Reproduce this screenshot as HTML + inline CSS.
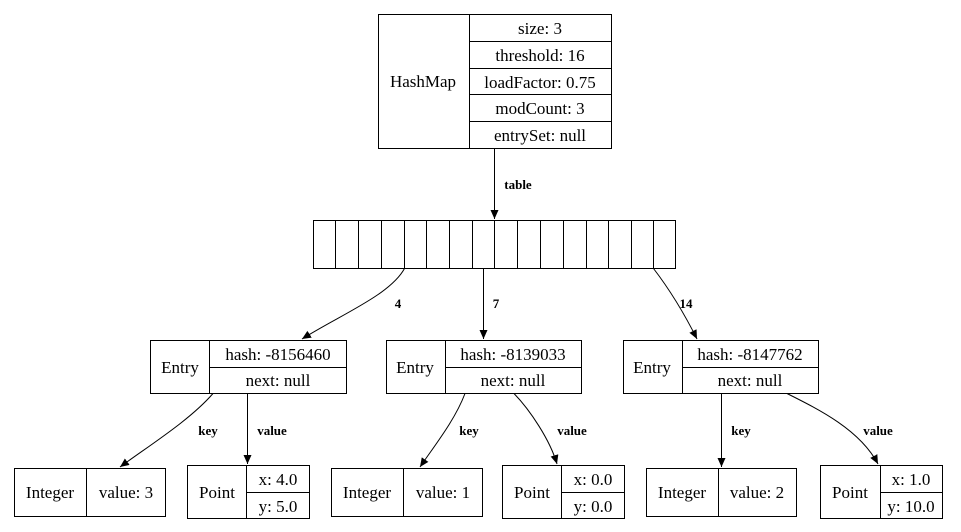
<!DOCTYPE html>
<html><head><meta charset="utf-8"><style>
html,body{margin:0;padding:0;background:#fff;}
svg{display:block;}
</style></head><body>
<svg width="961" height="532" viewBox="0 0 961 532" xmlns="http://www.w3.org/2000/svg" font-family="'Liberation Serif', 'Times New Roman', 'DejaVu Serif', serif">
<defs><marker id="a" markerWidth="10" markerHeight="10" refX="9" refY="5" orient="auto" markerUnits="userSpaceOnUse"><path d="M0,1 L9,5 L0,9 Z" fill="#000"/></marker></defs>
<g fill="none" stroke="#000" stroke-width="1">
<rect x="378.5" y="14.5" width="233" height="134"/>
<line x1="469.5" y1="14.5" x2="469.5" y2="148.5"/>
<line x1="469.5" y1="41.5" x2="611.5" y2="41.5"/>
<line x1="469.5" y1="68.5" x2="611.5" y2="68.5"/>
<line x1="469.5" y1="94.5" x2="611.5" y2="94.5"/>
<line x1="469.5" y1="121.5" x2="611.5" y2="121.5"/>
<rect x="313.5" y="220.5" width="362" height="48"/>
<path d="M335.5 220.5V268.5M358.5 220.5V268.5M381.5 220.5V268.5M404.5 220.5V268.5M426.5 220.5V268.5M449.5 220.5V268.5M472.5 220.5V268.5M494.5 220.5V268.5M517.5 220.5V268.5M540.5 220.5V268.5M563.5 220.5V268.5M586.5 220.5V268.5M608.5 220.5V268.5M631.5 220.5V268.5M653.5 220.5V268.5"/>
<rect x="150.5" y="340.5" width="196" height="53"/><line x1="209.5" y1="340.5" x2="209.5" y2="393.5"/><line x1="209.5" y1="367.5" x2="346.5" y2="367.5"/>
<rect x="386.5" y="340.5" width="195" height="53"/><line x1="445.5" y1="340.5" x2="445.5" y2="393.5"/><line x1="445.5" y1="367.5" x2="581.5" y2="367.5"/>
<rect x="623.5" y="340.5" width="195" height="53"/><line x1="682.5" y1="340.5" x2="682.5" y2="393.5"/><line x1="682.5" y1="367.5" x2="818.5" y2="367.5"/>
<rect x="14.5" y="468.5" width="151" height="48"/><line x1="86.5" y1="468.5" x2="86.5" y2="516.5"/>
<rect x="331.5" y="468.5" width="151" height="48"/><line x1="403.5" y1="468.5" x2="403.5" y2="516.5"/>
<rect x="646.5" y="468.5" width="150" height="48"/><line x1="718.5" y1="468.5" x2="718.5" y2="516.5"/>
<rect x="187.5" y="465.5" width="122" height="53"/><line x1="246.5" y1="465.5" x2="246.5" y2="518.5"/><line x1="246.5" y1="492.5" x2="309.5" y2="492.5"/>
<rect x="502.5" y="465.5" width="122" height="53"/><line x1="561.5" y1="465.5" x2="561.5" y2="518.5"/><line x1="561.5" y1="492.5" x2="624.5" y2="492.5"/>
<rect x="820.5" y="465.5" width="122" height="53"/><line x1="880.5" y1="465.5" x2="880.5" y2="518.5"/><line x1="880.5" y1="492.5" x2="942.5" y2="492.5"/>
<path d="M494.5 148.5V219" marker-end="url(#a)"/>
<path d="M404.5 268.5C390 295 340 315 302 339" marker-end="url(#a)"/>
<path d="M483.5 268.5V339" marker-end="url(#a)"/>
<path d="M653.5 268.5C670 290 685 315 697 339" marker-end="url(#a)"/>
<path d="M213 393.5C190 420 150 445 120 467" marker-end="url(#a)"/>
<path d="M247.5 393.5V464" marker-end="url(#a)"/>
<path d="M465 393.5C455 420 435 445 420 467" marker-end="url(#a)"/>
<path d="M514 393.5C530 410 550 440 557 464" marker-end="url(#a)"/>
<path d="M721.5 393.5V467" marker-end="url(#a)"/>
<path d="M787 393.5C820 410 860 430 878 464" marker-end="url(#a)"/>
</g>
<g text-anchor="middle" font-size="17" fill="#000">
<text x="423" y="87">HashMap</text>
<text x="540" y="34">size: 3</text>
<text x="540" y="61">threshold: 16</text>
<text x="540" y="88">loadFactor: 0.75</text>
<text x="540" y="114">modCount: 3</text>
<text x="540" y="141">entrySet: null</text>
<text x="180" y="373">Entry</text><text x="278" y="360">hash: -8156460</text><text x="278" y="386">next: null</text>
<text x="415" y="373">Entry</text><text x="513" y="360">hash: -8139033</text><text x="513" y="386">next: null</text>
<text x="652" y="373">Entry</text><text x="750" y="360">hash: -8147762</text><text x="750" y="386">next: null</text>
<text x="50" y="498">Integer</text><text x="126" y="498">value: 3</text>
<text x="367" y="498">Integer</text><text x="443" y="498">value: 1</text>
<text x="682" y="498">Integer</text><text x="757" y="498">value: 2</text>
<text x="217" y="498">Point</text><text x="278" y="485">x: 4.0</text><text x="278" y="512">y: 5.0</text>
<text x="532" y="498">Point</text><text x="593" y="485">x: 0.0</text><text x="593" y="512">y: 0.0</text>
<text x="850" y="498">Point</text><text x="911" y="485">x: 1.0</text><text x="911" y="512">y: 10.0</text>
</g>
<g text-anchor="middle" font-size="13" font-weight="bold" fill="#000">
<text x="518" y="189">table</text>
<text x="398" y="308">4</text>
<text x="496" y="308">7</text>
<text x="686" y="308">14</text>
<text x="208" y="435">key</text>
<text x="272" y="435">value</text>
<text x="469" y="435">key</text>
<text x="572" y="435">value</text>
<text x="741" y="435">key</text>
<text x="878" y="435">value</text>
</g>
</svg>
</body></html>
